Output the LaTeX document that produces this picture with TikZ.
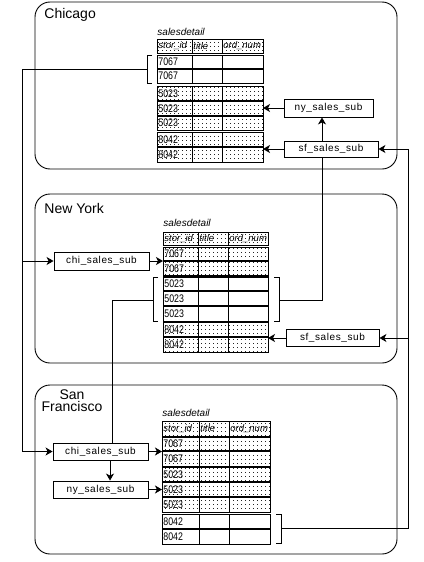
\documentclass[tikz,border=0pt]{standalone}
\usepackage{fontspec}
\setmainfont{Liberation Sans}
\newfontfamily\narrowsf[FakeStretch=0.8]{Liberation Sans}
\newfontfamily\widesf[LetterSpace=6]{Liberation Sans}
\usetikzlibrary{arrows.meta,patterns,patterns.meta}

\tikzdeclarepattern{
  name=pixdots,
  type=uncolored,
  bounding box={(0pt,0pt) and (3.5pt,3.5pt)},
  tile size={(3.5pt,3.5pt)},
  code={\pgfpathrectangle{\pgfpointorigin}{\pgfqpoint{0.9pt}{0.9pt}}\pgfusepath{fill}}
}

\tikzset{
 region/.style={draw, rounded corners=15pt},
 title/.style={font=\fontsize{14}{12.5}\selectfont, inner sep=0pt},
 sub/.style={draw, fill=white, font=\widesf\fontsize{10}{12}\selectfont, inner sep=0pt},
 tlabel/.style={font=\itshape\fontsize{10}{12}\selectfont, inner sep=0pt, anchor=base west},
 cell/.style={font=\narrowsf\fontsize{11}{12}\selectfont, inner sep=0pt, anchor=west, xshift=1pt},
 hcell/.style={font=\itshape\fontsize{9.5}{11}\selectfont, inner sep=0pt, anchor=west, xshift=1pt},
 shaded/.style={pattern=pixdots, pattern color=black!85},
 plain/.style={fill=white},
 sep/.style={line width=1.8pt},
 conn/.style={line width=0.9pt},
 arr/.style={conn, -{Stealth[length=7pt, width=8pt, inset=2pt]}},
}

% #1 x0, #2 col1, #3 col2, #4 x3, #5 ytop, #6 ybot, #7 text, #8 fill style, #9 name
\newcommand{\srow}[9]{%
  \path[#8] (#1,#5) rectangle (#4,#6);
  \draw (#1,#5) rectangle (#4,#6) (#2,#5) -- (#2,#6) (#3,#5) -- (#3,#6);
  \node[cell] (#9) at (#1,{(#5+#6)/2}) {#7};
  \coordinate (#9-sw) at (#1,#6);
  \coordinate (#9-se) at (#4,#6);
  \coordinate (#9-w) at (#1,{(#5+#6)/2});
  \coordinate (#9-e) at (#4,{(#5+#6)/2});
}
% header row
\newcommand{\shead}[7]{%
  \path[shaded] (#1,#5) rectangle (#4,#6);
  \draw (#1,#5) rectangle (#4,#6) (#2,#5) -- (#2,#6) (#3,#5) -- (#3,#6);
  \node[hcell] (#7a) at (#1,{(#5+#6)/2}) {stor\_id};
  \node[hcell] (#7b) at (#2,{(#5+#6)/2}) {title};
  \node[hcell] (#7c) at (#3,{(#5+#6)/2}) {ord\_num};
}

\begin{document}
\begin{tikzpicture}[x=1pt, y=-1pt, line width=0.9pt]
\useasboundingbox (0,0) rectangle (423,562);

% ---------------- regions
\draw[region] (35,2) rectangle (397,169);
\draw[region] (35,194) rectangle (397,363);
\draw[region] (35,385) rectangle (397,554);
\node[title, anchor=base west] (tChi) at (44,18) {Chicago};
\node[title, anchor=base west] (tNY) at (44,213) {New York};
\node[title, anchor=north, align=center] (tSF) at (72,389) {San\\Francisco};

% ---------------- Chicago table
\node[tlabel] (lChi) at (157,35) {salesdetail};
\shead{157}{192}{222}{263}{39}{53}{ch}
\srow{157}{192}{222}{263}{55}{69}{7067}{plain}{c1}
\srow{157}{192}{222}{263}{69}{83}{7067}{plain}{c2}
\srow{157}{192}{222}{263}{86}{101}{5023}{shaded}{c3}
\srow{157}{192}{222}{263}{101}{116}{5023}{shaded}{c4}
\srow{157}{192}{222}{263}{116}{130}{5023}{shaded}{c5}
\srow{157}{192}{222}{263}{132}{147}{8042}{shaded}{c6}
\srow{157}{192}{222}{263}{147}{162}{8042}{shaded}{c7}
\draw[sep] (c1-sw) -- (c1-se) (c3-sw) -- (c3-se) (c4-sw) -- (c4-se) (c6-sw) -- (c6-se);

% ---------------- New York table
\node[tlabel] (lNY) at (163,226) {salesdetail};
\shead{163}{198}{228}{268}{232}{245}{nh}
\srow{163}{198}{228}{268}{247}{261}{7067}{shaded}{n1}
\srow{163}{198}{228}{268}{261}{276}{7067}{shaded}{n2}
\srow{163}{198}{228}{268}{277}{291}{5023}{plain}{n3}
\srow{163}{198}{228}{268}{291}{306}{5023}{plain}{n4}
\srow{163}{198}{228}{268}{306}{321}{5023}{plain}{n5}
\srow{163}{198}{228}{268}{322}{337}{8042}{shaded}{n6}
\srow{163}{198}{228}{268}{337}{352}{8042}{shaded}{n7}
\draw[sep] (n1-sw) -- (n1-se) (n2-sw) -- (n2-se) (n3-sw) -- (n3-se) (n4-sw) -- (n4-se) (n6-sw) -- (n6-se);

% ---------------- San Francisco table
\node[tlabel] (lSF) at (162,416) {salesdetail};
\shead{162}{199}{229}{270}{421}{436}{sh}
\srow{162}{199}{229}{270}{437}{451}{7067}{shaded}{s1}
\srow{162}{199}{229}{270}{451}{467}{7067}{shaded}{s2}
\srow{162}{199}{229}{270}{467}{482}{5023}{shaded}{s3}
\srow{162}{199}{229}{270}{482}{497}{5023}{shaded}{s4}
\srow{162}{199}{229}{270}{497}{512}{5023}{shaded}{s5}
\srow{162}{199}{229}{270}{514}{529}{8042}{plain}{s6}
\srow{162}{199}{229}{270}{529}{544}{8042}{plain}{s7}
\draw[sep] (s1-sw) -- (s1-se) (s2-sw) -- (s2-se) (s3-sw) -- (s3-se) (s4-sw) -- (s4-se) (s6-sw) -- (s6-se);

% ---------------- brackets
\draw (152,55) -- (147,55) -- (147,83) -- (152,83);
\coordinate (chiB) at (147,69);
\draw (158,277) -- (153,277) -- (153,321) -- (158,321);
\coordinate (nyLB) at (153,300);
\draw (274,277) -- (279,277) -- (279,321) -- (274,321);
\coordinate (nyRB) at (279,300);
\draw (276,514) -- (281,514) -- (281,543) -- (276,543);
\coordinate (sfRB) at (281,528);

% ---------------- procedure boxes
\node[sub, minimum width=89pt, minimum height=18pt] (nyC) at (328.5,108) {ny\_sales\_sub};
\node[sub, minimum width=94pt, minimum height=16pt] (sfC) at (331,149) {sf\_sales\_sub};
\node[sub, minimum width=95pt, minimum height=18pt] (chiN) at (101.5,261) {chi\_sales\_sub};
\node[sub, minimum width=93pt, minimum height=17pt] (sfN) at (332.5,338) {sf\_sales\_sub};
\node[sub, minimum width=95pt, minimum height=17pt] (chiS) at (100.5,451.5) {chi\_sales\_sub};
\node[sub, minimum width=95pt, minimum height=17pt] (nyS) at (100.5,489.5) {ny\_sales\_sub};

% guide coordinates for vertical runs
\coordinate (vL) at (22,0);
\coordinate (vR) at (408,0);
\coordinate (vA) at (322,0);
\coordinate (vB) at (112,0);
\coordinate (vC) at (110,0);

% ---------------- connectors
% Chicago 7067 rows -> chi_sales_sub in NY and SF
\draw[arr] (chiB) -- (chiB -| vL) |- (chiS.west);
\draw[arr] (vL |- chiN.west) -- (chiN.west);
% Chicago
\draw[arr] (nyC.west) -- (nyC.west -| c4-e);
\draw[arr] (sfC.west) -- (sfC.west -| c6-se);
\draw[arr] (sfC.north -| vA) -- (nyC.south -| vA);
\draw[conn] (sfC.south -| vA) |- (nyRB);
% SF 8042 rows -> sf_sales_sub in Chicago and NY
\draw[arr] (sfRB) -- (sfRB -| vR) |- (sfC.east);
\draw[arr] (vR |- sfN.east) -- (sfN.east);
% New York
\draw[arr] (chiN.east) -- (chiN.east -| n1-sw);
\draw[arr] (sfN.west) -- (sfN.west -| n6-se);
\draw[conn] (nyLB) -- (nyLB -| vB) -- (vB |- chiS.north);
% San Francisco
\draw[arr] (chiS.east) -- (chiS.east -| s1-sw);
\draw[arr] (chiS.south -| vC) -- (nyS.north -| vC);
\draw[arr] (nyS.east) -- (nyS.east -| s4-w);
\end{tikzpicture}
\end{document}
